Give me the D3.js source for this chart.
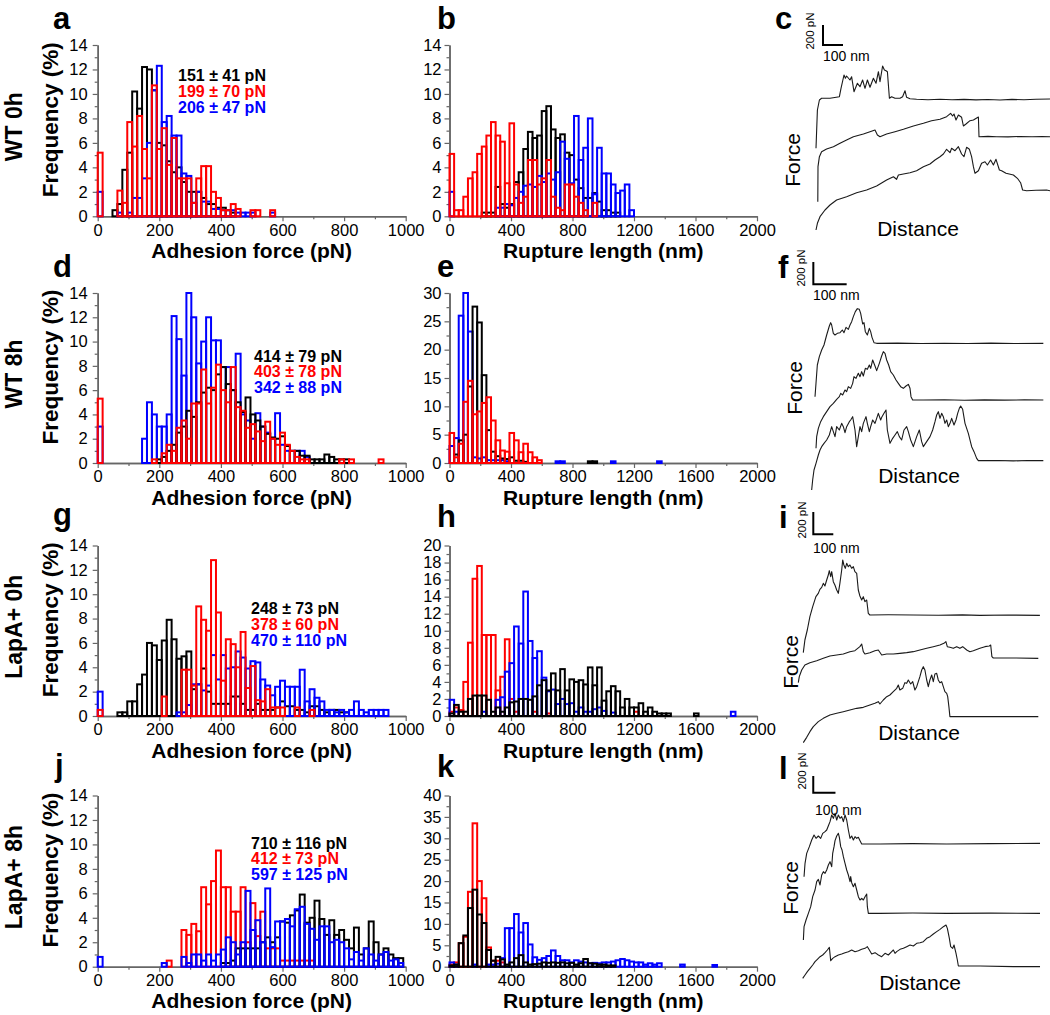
<!DOCTYPE html>
<html><head><meta charset="utf-8">
<script src="https://cdn.jsdelivr.net/npm/d3@7"></script>
<style>body{margin:0;background:#fff}svg{display:block}</style>
</head><body><svg id="chart" width="1050" height="1015"></svg>
<script>
// ---------------- DATA ----------------
const forceBinWidth = 16;   // pN
const lengthBinWidth = 30;  // nm
const forceTicks = [0, 200, 400, 600, 800, 1000];
const lengthTicks = [0, 400, 800, 1200, 1600, 2000];
const freqTicks14 = [0, 2, 4, 6, 8, 10, 12, 14];
const freqTicks20 = [0, 2, 4, 6, 8, 10, 12, 14, 16, 18, 20];
const freqTicks30 = [0, 5, 10, 15, 20, 25, 30];
const freqTicks40 = [0, 5, 10, 15, 20, 25, 30, 35, 40];
const rowLabels = ["WT 0h", "WT 8h", "LapA+ 0h", "LapA+ 8h"];
const panelLetters = ["a","b","c","d","e","f","g","h","i","j","k","l"];
const statsA = ["151 \u00b1 41 pN", "199 \u00b1 70 pN", "206 \u00b1 47 pN"];
const statsD = ["414 \u00b1 79 pN", "403 \u00b1 78 pN", "342 \u00b1 88 pN"];
const statsG = ["248 \u00b1 73 pN", "378 \u00b1 60 pN", "470 \u00b1 110 pN"];
const statsJ = ["710 \u00b1 116 pN", "412 \u00b1 73 pN", "597 \u00b1 125 pN"];

// adhesion force histograms (frequency %, bin i = [16i, 16i+16] pN)
const aBlack = [0,0,0,0.5,1,3.8,5.2,10.2,8.8,12.2,12,10.3,6,5.8,4.5,3.6,4,2.8,2,2,2,1.5,1,1,0.7,0.7,0.5,0.3];
const aRed = [5.2,0,0,0,2.1,1.1,7.7,5.7,8.2,5.5,3.1,10.7,5.5,7.2,4.2,6.4,3.1,3.1,3.1,1.1,3.1,4.1,4.1,2.0,1.5,0.5,0.5,1.0,0.6,0,0,0.5,0.5,0,0,0.5];
const aBlue = [2,0,0,0,0.3,0,0.3,1.5,1.5,3.1,6,10.3,12.3,7.7,8.2,6.6,6.6,3.5,3.3,1.1,2.0,1.2,1.2,0.6,0.6,0.5,0.5,0.5,0.3,0.3,0.3,0.3,0,0,0,0.3];

const dBlack = [0,0,0,0,0,0,0,0,0,0,0,0,0.3,0.5,1.0,1.5,2.5,3.0,4.3,3.8,5.0,5.8,6.2,6.0,7.3,7.9,6.5,6.0,5.0,4.2,5.4,4.0,3.5,3.0,2.4,2.1,2.0,2.2,1.4,1.0,1.0,0.6,0.6,0.3,0.3,0.3,0.7,0.5,0.3,0.3,0.3];
const dRed = [5.3,0,0,0,0,0,0,0,0,0,0,0.3,0,0.8,1.5,1.0,2.9,3.5,2.0,4.9,4.9,7.7,4.9,6.2,8.1,6.0,5.0,7.9,4.6,4.3,2.9,3.2,2.6,1.8,3.4,2.0,1.5,2.5,1.5,1.0,0.5,0.3,0.3,0,0,0,0,0,0,0.3,0,0.3,0,0,0,0,0,0.3];
const dBlue = [3.0,0,0,0,0,0,0,0,0,2.0,5.0,4.0,3.0,3.0,4.0,12.1,10.2,7.2,14.0,12.0,8.2,10.0,12.0,10.1,10.1,7.9,7.9,6.0,9.0,4.0,3.5,2.0,4.1,3.0,2.5,2.0,4.1,1.5,1.0,1.0,1.0,1.0,0.5];

const gBlack = [0,0,0,0,0.3,0.3,1.2,1.2,2.6,3.4,6.0,5.8,4.6,6.2,7.9,6.3,4.7,4.9,5.3,2.2,2.6,3.9,2.0,1.0,1.0,1.0,1.0,1.6,1.6,1.0,0.5,0.5,1.0,0.5,0.5,0.5,0.7,1.2,0.8,0.8,0.5,0.5,0.3,0.8,0.8,0.5,0.3,0.5,0.5,0.3,0.3];
const gRed = [0.5,0,0,0,0,0,0,0,0,0,0,0,0,1.6,0,0,0,3.8,3.8,2.5,9.0,7.9,7.0,12.8,8.5,2.9,6.3,5.9,4.0,6.9,2.3,4.1,1.3,1.2,2.2,0.7,0.7,0.7,0,0,0.7,0,0,0.5];
const gBlue = [2.0,0,0,0,0,0,0,0,0,0,0,0,0,0,0,0,0.3,0.3,0.9,2.6,2.6,2.1,2.5,5.0,3.0,5.0,3.9,4.0,5.3,4.8,3.9,4.5,4.4,3.0,2.5,1.7,2.4,2.9,2.4,2.4,2.4,3.8,1.2,2.2,1.5,1.2,0.5,0.5,0.3,0.5,0.3,0.5,1.2,0.5,0.3,0.5,0.5,0.5,0.5];

const jBlack = [0,0,0,0,0,0,0,0,0,0,0,0,0,0,0,0,0,0,0,0,0,0,0,0,0,0.3,0.3,0.5,1.5,1.5,1.5,1.5,1.5,2.0,2.4,2.0,2.4,3.7,3.6,4.2,4.6,5.9,3.6,4.0,5.4,3.9,2.6,3.8,2.6,3.0,2.2,1.5,3.2,1.0,1.5,3.7,2.0,1.0,1.5,1.0,0.7,0.7];
const jRed = [0,0,0,0,0,0,0,0,0,0,0,0,0,0,0.5,0,0,3.0,2.6,3.5,2.9,6.5,5.1,7.0,9.5,6.5,6.5,4.5,4.5,6.5,2.0,5.2,2.5,4.5,1.5,1.5,1.5,0.5,0.5,0.5,0.5,0.5,0.5,0.5];
const jBlue = [0.8,0,0,0,0,0,0,0,0,0,0,0,0,0.3,0,0,0,0.8,0.3,1.0,1.0,0.5,1.0,0.5,1.0,1.4,2.4,2.0,1.0,2.0,6.2,3.0,3.8,2.0,6.4,1.6,3.7,3.7,3.9,3.3,4.7,4.9,3.5,3.1,2.2,3.3,3.3,2.0,2.2,2.0,1.5,0.6,1.2,0.5,1.5,1.0,0.5,1.0,1.2,0.5,0.6,0.3];

// rupture length histograms (frequency %, bin j = [30j, 30j+30] nm)
const bBlack = [0,0,0,0,0,0,0,0.3,0.3,0.3,2.4,1.0,0.7,1.0,2.8,3.6,5.5,6.9,6.4,6.6,8.6,9.0,7.1,6.4,6.7,5.2,5.0,3.0,2.3,1.5,1.5,1.9,1.2,0.5,0.5,0.3,0.3];
const bRed = [5.1,0.5,0.5,1.6,3.1,3.6,5.1,5.7,6.6,7.7,6.6,6.1,2.7,7.6,2.6,1.1,1.6,4.6,4.6,2.6,3.1,4.6,1.6,0.7,0.5,2.6,2.6,1.6,1.1,0.5,0,1.1];
const bBlue = [2.0,0,0,0,0,0,0,0,0,0,0.7,0.7,1.0,0.9,1.5,2.0,2.5,2.6,2.4,3.3,2.8,3.5,3.0,3.6,6.1,4.7,2.7,8.2,4.6,5.6,8.0,1.8,5.6,3.5,3.5,2.6,1.9,2.1,2.6,0.5];

const eBlack = [0,1.5,4.0,5.0,13.5,27.6,24.8,15.5,5.8,2.0,1.2,0.8,0.7,1.0,0.4,0.4,0.2,0,0,0,0,0,0,0,0,0,0,0,0,0,0.3,0.3];
const eRed = [5.3,1.0,3.4,10.8,14.5,8.6,9.1,10.6,11.6,7.5,4.0,2.2,2.0,5.3,4.0,1.9,3.4,1.9,1.0,0.5];
const eBlue = [3.0,4.4,26,30,23.2,1.0,0.8,1.0,0.5,0.5,0.5,0.5,0.3,0,0,0,0,0,0,0,0,0,0,0.3,0.3,0,0,0,0,0,0,0,0,0,0,0.3,0,0,0,0,0,0,0,0,0,0.3];

const hBlack = [0.3,1.3,0.5,0.5,2.0,2.4,2.4,2.4,1.9,0.5,1.0,0.5,1.0,1.6,1.7,2.0,2.0,1.9,2.3,3.6,4.2,3.0,5.0,3.0,5.5,3.0,4.3,4.0,4.2,3.7,5.7,3.6,5.7,1.8,2.9,3.5,2.9,1.0,2.0,1.0,1.0,1.5,0.5,1.0,0.5,0.3,0.3,0.3,0,0,0,0,0,0.3];
const hRed = [0.5,1.0,0.7,4.0,8.6,16.1,17.6,9.5,9.5,9.5,3.0,4.6,9.0,2.0,0.5,0,0,0,0.5,0,0,0.3,0,0,0,0,0,0,0,0,0,0,0,0,0,0,0,0,0,0,0.5];
const hBlue = [1.9,0.5,0,0,0,0,0,0.5,0,0,1.9,2.2,5.2,6.2,10.5,8.5,14.6,8.8,6.8,7.6,4.5,2.9,3.1,1.4,2.0,1.4,1.5,0.5,1.0,0.5,0.5,0.8,1.0,0.6,0,0.4,0,0,0,0,0,0,0,0,0,0,0,0,0,0,0,0,0,0,0,0,0,0,0,0,0,0.5];

const kBlack = [0.3,0.5,5.5,7.3,13.7,18.0,12.2,10.2,3.9,1.4,2.3,1.7,0.5,1.0,2.0,2.7,1.0,0.5,0.6,0.7,1.0,0.9,1.0,0.9,1.0,0.8,0.9,0.5,0.8,1.8,0.8,0.7,0.5,0.5,0.3,0.3];
const kRed = [0.5,1.0,5.5,7.0,17.5,33.5,20.0,16.0,4.5,1.4,1.4,1.0];
const kBlue = [1.0,0.5,0,0,0,0.5,0,0,0.5,0.5,0.7,2.0,9.0,9.0,12.3,8.0,10.2,5.2,2.2,1.6,2.0,2.5,3.8,2.5,1.5,1.5,1.0,1.5,1.2,1.0,0.8,0.9,0.8,1.0,1.0,1.2,1.5,1.8,1.5,1.2,1.0,1.0,0.5,0.8,0.5,0.8,0,0,0,0,0.5,0,0,0,0,0,0,0.4];

// force–distance traces: [distance (nm), force (pN) incl. stacking offset]
const scaleBarForce = 200, scaleBarDistance = 100;
const traceC1 = [[0,917],[7,1300],[17,1400],[28,1417],[70,1417],[117,1433],[125,1517],[140,1650],[147,1617],[153,1640],[170,1600],[178,1633],[190,1483],[207,1567],[220,1533],[233,1600],[245,1517],[257,1600],[270,1527],[287,1617],[300,1567],[312,1683],[320,1583],[333,1740],[342,1700],[350,1693],[357,1683],[367,1417],[378,1433],[395,1417],[420,1417],[433,1433],[445,1493],[453,1427],[470,1413],[503,1407],[560,1403],[620,1408],[680,1402],[740,1406],[800,1401],[860,1405],[920,1400],[980,1406],[1040,1402],[1100,1407],[1170,1410]];
const traceC2 = [[9,383],[10,733],[17,833],[28,883],[53,910],[87,933],[120,967],[153,1000],[187,1033],[237,1060],[270,1083],[295,1100],[307,1050],[320,1033],[353,1060],[395,1083],[437,1107],[487,1140],[537,1167],[578,1193],[620,1207],[653,1233],[673,1267],[683,1240],[690,1260],[700,1200],[712,1250],[728,1227],[737,1140],[750,1160],[770,1193],[787,1200],[812,1230],[815,1033],[860,1036],[903,1033],[960,1031],[1020,1035],[1080,1032],[1130,1034],[1170,1033]];
const traceC3 = [[0,100],[7,167],[20,233],[45,300],[70,350],[103,400],[153,433],[203,473],[253,500],[303,540],[353,600],[387,633],[403,607],[412,650],[437,660],[470,673],[503,693],[537,733],[570,760],[595,800],[620,833],[637,860],[653,907],[670,873],[678,917],[695,893],[712,933],[728,860],[740,833],[753,927],[767,907],[778,833],[787,733],[795,667],[812,693],[828,767],[845,783],[857,750],[873,800],[887,750],[900,807],[917,700],[928,693],[950,667],[987,650],[1007,617],[1023,573],[1033,500],[1053,493],[1100,497],[1153,500],[1170,493]];

const traceF1 = [[12,840],[15,960],[19,1125],[25,1200],[32,1260],[39,1305],[47,1395],[55,1476],[59,1506],[62,1485],[67,1410],[72,1395],[79,1410],[87,1416],[94,1440],[99,1416],[105,1464],[112,1446],[117,1485],[122,1515],[127,1560],[133,1605],[139,1632],[145,1626],[149,1590],[155,1494],[159,1506],[163,1425],[169,1395],[175,1455],[179,1425],[183,1374],[189,1326],[197,1320],[260,1322],[330,1318],[400,1321],[470,1319],[540,1322],[610,1318],[697,1320]];
const traceF2 = [[15,375],[17,480],[22,555],[29,615],[37,660],[47,705],[57,750],[67,780],[77,816],[85,840],[89,870],[95,855],[102,900],[107,885],[112,930],[119,915],[125,960],[129,1020],[135,1005],[142,1050],[147,1020],[152,1065],[157,1026],[163,1095],[169,1086],[175,1125],[179,1095],[185,1170],[192,1116],[197,1074],[205,1140],[212,1206],[217,1245],[222,1230],[227,1170],[233,1125],[239,1065],[247,1035],[255,990],[262,960],[269,930],[277,915],[285,936],[292,951],[297,915],[300,840],[305,810],[337,810],[400,812],[460,808],[520,811],[580,809],[640,811],[697,810]];
const traceF3 = [[2,0],[5,90],[9,180],[15,240],[22,315],[27,360],[32,390],[39,420],[47,450],[55,495],[62,570],[67,525],[72,480],[77,570],[85,540],[92,600],[97,570],[102,516],[107,570],[115,615],[119,630],[125,660],[132,540],[137,390],[142,480],[147,570],[152,525],[157,600],[165,660],[169,600],[175,525],[179,570],[185,630],[192,600],[197,645],[202,690],[209,630],[213,660],[219,690],[225,720],[229,540],[237,420],[245,465],[252,495],[259,525],[265,480],[272,450],[279,540],[287,570],[292,525],[299,450],[307,390],[317,480],[325,540],[332,435],[337,390],[347,435],[357,480],[365,540],[372,615],[377,675],[382,705],[387,645],[392,690],[397,660],[402,600],[407,630],[412,570],[417,600],[422,645],[429,585],[435,630],[440,690],[445,735],[449,756],[455,726],[462,600],[472,510],[482,390],[489,345],[497,285],[502,264],[507,264],[560,266],[607,262],[650,265],[697,264]];

const traceI1 = [[25,831],[33,945],[45,1035],[58,1155],[72,1245],[88,1335],[100,1365],[108,1401],[117,1419],[125,1455],[133,1431],[142,1485],[150,1530],[155,1569],[162,1515],[167,1560],[175,1470],[183,1440],[192,1395],[200,1365],[208,1455],[217,1575],[222,1665],[228,1620],[235,1590],[242,1635],[250,1605],[258,1620],[267,1590],[275,1605],[283,1560],[292,1545],[300,1395],[308,1341],[317,1305],[325,1335],[333,1290],[342,1305],[350,1185],[358,1170],[450,1172],[575,1170],[700,1168],[820,1171],[908,1167],[1050,1170],[1208,1167]];
const traceI2 = [[0,561],[5,615],[17,675],[33,720],[58,741],[92,759],[125,780],[158,801],[192,810],[225,819],[258,840],[283,849],[308,885],[317,909],[325,840],[333,819],[358,831],[383,849],[400,855],[417,810],[442,819],[475,819],[508,825],[542,831],[575,840],[608,855],[642,870],[675,885],[708,900],[728,915],[738,930],[745,885],[758,879],[775,870],[792,885],[808,870],[822,885],[842,855],[858,840],[875,849],[908,870],[933,885],[955,891],[962,900],[968,795],[975,783],[1075,783],[1200,780]];
const traceI3 = [[25,21],[42,69],[58,120],[75,165],[100,210],[125,240],[158,270],[192,285],[225,300],[258,315],[292,330],[325,339],[358,360],[383,375],[400,390],[408,369],[425,405],[442,435],[458,450],[475,480],[492,510],[500,540],[508,495],[522,510],[533,561],[542,555],[550,585],[562,549],[572,570],[583,495],[592,525],[600,570],[608,615],[617,675],[625,705],[633,675],[642,585],[650,525],[658,585],[667,630],[675,570],[683,639],[692,645],[700,585],[708,561],[717,570],[725,525],[733,480],[742,465],[747,435],[753,345],[758,255],[908,255],[1075,255],[1200,255]];

const traceL1 = [[10.5,1240],[15,1400],[22.5,1520],[34.5,1600],[45,1680],[55.5,1740],[64.5,1700],[75,1728],[85.5,1700],[94.5,1760],[105,1780],[112.5,1800],[121.5,1860],[127.5,1900],[135,1980],[142.5,1940],[150,2000],[157.5,1920],[165,1980],[172.5,1940],[180,1960],[187.5,1900],[195,1980],[202.5,1920],[210,1800],[217.5,1700],[225,1728],[232.5,1680],[240,1720],[247.5,1700],[255,1712],[262.5,1672],[270,1632],[352.5,1632],[500,1636],[652.5,1632],[850,1636],[1072.5,1640]];
const traceL2 = [[7.5,480],[10.5,640],[19.5,720],[30,800],[40.5,880],[49.5,1000],[60,1080],[67.5,1180],[75,1208],[82.5,1140],[90,1260],[97.5,1300],[105,1280],[112.5,1320],[120,1380],[127.5,1420],[135,1360],[139.5,1520],[145.5,1600],[150,1672],[157.5,1728],[165,1760],[169.5,1712],[175.5,1600],[181.5,1560],[187.5,1480],[195,1400],[202.5,1320],[210,1260],[217.5,1180],[220.5,1240],[225,1168],[232.5,1120],[240,1160],[247.5,1080],[255,1000],[262.5,960],[270,980],[277.5,960],[285,1000],[292.5,1032],[295.5,880],[300,800],[352.5,800],[500,804],[652.5,800],[850,802],[1072.5,800]];
const traceL3 = [[4.5,20],[15,60],[25.5,100],[37.5,140],[49.5,180],[60,220],[70.5,248],[82.5,280],[94.5,300],[105,328],[115.5,360],[124.5,392],[130.5,232],[139.5,260],[150,280],[165,300],[180,312],[195,328],[210,340],[225,360],[240,340],[255,352],[270,368],[285,380],[295.5,400],[304.5,360],[315,312],[330,328],[345,300],[360,280],[375,320],[390,300],[405,340],[412.5,360],[420,320],[427.5,340],[442.5,368],[457.5,380],[472.5,400],[487.5,420],[502.5,408],[517.5,440],[532.5,448],[547.5,460],[562.5,500],[577.5,520],[592.5,552],[607.5,580],[622.5,608],[637.5,640],[649.5,660],[655.5,620],[664.5,500],[670.5,400],[679.5,380],[685.5,420],[694.5,320],[700.5,240],[705,168],[802.5,168],[952.5,160],[1072.5,160]];

// ---------------- DRAWING ----------------
const FONT = "'Liberation Sans', Arial, Helvetica, sans-serif";
const svg = d3.select("#chart").attr("font-family", FONT);
const colors = {black: "#000000", red: "#ff0000", blue: "#0000ff"};
const AXIS = "#666";

const rows = [
  {top: 45, bottom: 216.3, title: 41.5},
  {top: 293, bottom: 463, title: 42},
  {top: 545.5, bottom: 716, title: 41.5},
  {top: 795.5, bottom: 966.7, title: 41.5}
];
const xForce = d3.scaleLinear().domain([0, 1000]).range([97.7, 405.7]);
const xLength = d3.scaleLinear().domain([0, 2000]).range([449.5, 757]);

function styleAxis(sel) {
  sel.select(".domain").attr("stroke", AXIS).attr("stroke-width", 1.5);
  sel.selectAll(".tick line").attr("stroke", AXIS).attr("stroke-width", 1.2);
  sel.selectAll(".tick text").attr("fill", "#000").attr("font-size", "16.5px").attr("font-family", FONT);
}

function drawAxes(x, y, xMajor, xMinorStep, yMajor, yMinorStep, gap) {
  const g = svg.append("g");
  const xd = x.domain(), yd = y.domain();
  const xMinor = d3.range(xd[0], xd[1] + 1e-6, xMinorStep).filter(v => !xMajor.includes(v));
  const yMinor = d3.range(yd[0], yd[1] + 1e-6, yMinorStep).filter(v => !yMajor.includes(v));
  const b = y.range()[0], l = x.range()[0];
  g.append("g").attr("transform", `translate(0,${b})`)
    .call(d3.axisBottom(x).tickValues(xMinor).tickSize(3).tickFormat("").tickSizeOuter(0)).call(styleAxis);
  g.append("g").attr("transform", `translate(0,${b})`)
    .call(d3.axisBottom(x).tickValues(xMajor).tickSize(5).tickPadding(2.5).tickSizeOuter(0).tickFormat(d3.format("d"))).call(styleAxis);
  g.append("g").attr("transform", `translate(${l},0)`)
    .call(d3.axisLeft(y).tickValues(yMinor).tickSize(3).tickFormat("").tickSizeOuter(0)).call(styleAxis);
  g.append("g").attr("transform", `translate(${l},0)`)
    .call(d3.axisLeft(y).tickValues(yMajor).tickSize(5).tickPadding(gap).tickSizeOuter(0).tickFormat(d3.format("d"))).call(styleAxis);
}

function drawHist(x, y, values, binW, color) {
  const bins = values.map((v, i) => ({x0: i * binW, x1: (i + 1) * binW, v})).filter(d => d.v > 0);
  svg.append("g").selectAll("rect").data(bins).join("rect")
    .attr("x", d => x(d.x0)).attr("y", d => y(d.v))
    .attr("width", d => x(d.x1) - x(d.x0)).attr("height", d => y(0) - y(d.v))
    .attr("fill", "none").attr("stroke", color).attr("stroke-width", 2);
}

const histPanels = [
  {x: xForce, row: 0, ticks: freqTicks14, minor: 1, bin: forceBinWidth, s: {black: aBlack, red: aRed, blue: aBlue}, order: ["black", "blue", "red"]},
  {x: xLength, row: 0, ticks: freqTicks14, minor: 1, bin: lengthBinWidth, s: {black: bBlack, red: bRed, blue: bBlue}, order: ["black", "blue", "red"]},
  {x: xForce, row: 1, ticks: freqTicks14, minor: 1, bin: forceBinWidth, s: {black: dBlack, red: dRed, blue: dBlue}, order: ["blue", "black", "red"]},
  {x: xLength, row: 1, ticks: freqTicks30, minor: 2.5, bin: lengthBinWidth, s: {black: eBlack, red: eRed, blue: eBlue}, order: ["blue", "black", "red"]},
  {x: xForce, row: 2, ticks: freqTicks14, minor: 1, bin: forceBinWidth, s: {black: gBlack, red: gRed, blue: gBlue}, order: ["black", "blue", "red"]},
  {x: xLength, row: 2, ticks: freqTicks20, minor: 1, bin: lengthBinWidth, s: {black: hBlack, red: hRed, blue: hBlue}, order: ["red", "blue", "black"]},
  {x: xForce, row: 3, ticks: freqTicks14, minor: 1, bin: forceBinWidth, s: {black: jBlack, red: jRed, blue: jBlue}, order: ["red", "black", "blue"]},
  {x: xLength, row: 3, ticks: freqTicks40, minor: 2.5, bin: lengthBinWidth, s: {black: kBlack, red: kRed, blue: kBlue}, order: ["red", "blue", "black"]}
];

histPanels.forEach(p => {
  const r = rows[p.row];
  const yMax = p.ticks[p.ticks.length - 1];
  const y = d3.scaleLinear().domain([0, yMax]).range([r.bottom, r.top]);
  const isForce = p.x === xForce;
  drawAxes(p.x, y, isForce ? forceTicks : lengthTicks, isForce ? 100 : 200, p.ticks, p.minor, isForce ? 5 : 3);
  p.order.forEach(k => drawHist(p.x, y, p.s[k], p.bin, colors[k]));
  svg.append("text").attr("x", (p.x.range()[0] + p.x.range()[1]) / 2).attr("y", r.bottom + r.title)
    .attr("text-anchor", "middle").attr("font-weight", "bold").attr("font-size", "21px")
    .text(isForce ? "Adhesion force (pN)" : "Rupture length (nm)");
  if (isForce) {
    svg.append("text").attr("transform", `translate(58,${(r.top + r.bottom) / 2 - 11}) rotate(-90)`)
      .attr("text-anchor", "middle").attr("font-weight", "bold").attr("font-size", "22.5px").text("Frequency (%)");
    svg.append("text").attr("transform", `translate(22,${(r.top + r.bottom) / 2 - 4}) rotate(-90)`)
      .attr("text-anchor", "middle").attr("font-weight", "bold").attr("font-size", "23px").text(rowLabels[p.row]);
  }
});

// statistics text
const statsLayout = [
  {lines: statsA, x: 178, y: [81, 96.5, 112.5]},
  {lines: statsD, x: 254, y: [361.5, 377, 393]},
  {lines: statsG, x: 251, y: [614, 630, 646]},
  {lines: statsJ, x: 251, y: [848.5, 863.5, 879.5]}
];
const statColors = [colors.black, colors.red, colors.blue];
statsLayout.forEach(s => {
  s.lines.forEach((t, i) => {
    svg.append("text").attr("x", s.x).attr("y", s.y[i]).attr("fill", statColors[i])
      .attr("font-weight", "bold").attr("font-size", "16px").text(t);
  });
});

// panel letters
const letterPos = [[53,29],[437,29],[775,29],[53,277],[437,277],[778,278],[53,525],[437,527],[779,528],[55,776],[437,777],[779,779]];
panelLetters.forEach((L, i) => {
  svg.append("text").attr("x", letterPos[i][0]).attr("y", letterPos[i][1])
    .attr("font-weight", "bold").attr("font-size", "31px").text(L);
});

// force-distance trace panels
const tracePanels = [
  {x0: 816, kx: 0.2, yb: 240, ky: 0.1, traces: [traceC1, traceC2, traceC3], bar: [35, 1950],
   pnLabel: [814, 31], nmLabel: [823, 61], forceLabel: [800, 160], distLabel: [918, 236]},
  {x0: 811, kx: 1 / 3, yb: 490, ky: 1 / 9, traces: [traceF1, traceF2, traceF3], bar: [7, 1851],
   pnLabel: [805, 268], nmLabel: [813, 300], forceLabel: [802, 388], distLabel: [919, 483]},
  {x0: 798.3, kx: 0.2, yb: 745, ky: 1 / 9, traces: [traceI1, traceI2, traceI3], bar: [75, 1896],
   pnLabel: [806, 520], nmLabel: [813, 553], forceLabel: [798, 662], distLabel: [919, 740]},
  {x0: 801.7, kx: 0.2222, yb: 980, ky: 1 / 12, traces: [traceL1, traceL2, traceL3], bar: [52, 2248],
   pnLabel: [806, 771], nmLabel: [815, 815], forceLabel: [798, 888], distLabel: [920, 990]}
];

tracePanels.forEach(p => {
  const x = d3.scaleLinear().domain([0, 1000]).range([p.x0, p.x0 + 1000 * p.kx]);
  const y = d3.scaleLinear().domain([0, 1000]).range([p.yb, p.yb - 1000 * p.ky]);
  const line = d3.line().x(d => x(d[0])).y(d => y(d[1]));
  p.traces.forEach(t => {
    svg.append("path").attr("d", line(t)).attr("fill", "none").attr("stroke", "#1a1a1a")
      .attr("stroke-width", 1.1).attr("stroke-linejoin", "round");
  });
  const [bx, by] = p.bar;
  svg.append("path")
    .attr("d", `M${x(bx)},${y(by + scaleBarForce)}V${y(by)}H${x(bx + scaleBarDistance)}`)
    .attr("fill", "none").attr("stroke", "#000").attr("stroke-width", 2);
  svg.append("text").attr("transform", `translate(${p.pnLabel[0]},${p.pnLabel[1]}) rotate(-90)`)
    .attr("text-anchor", "middle").attr("font-size", "11.5px").text(scaleBarForce + " pN");
  svg.append("text").attr("x", p.nmLabel[0]).attr("y", p.nmLabel[1])
    .attr("font-size", "14px").text(scaleBarDistance + " nm");
  svg.append("text").attr("transform", `translate(${p.forceLabel[0]},${p.forceLabel[1]}) rotate(-90)`)
    .attr("text-anchor", "middle").attr("font-size", "21px").text("Force");
  svg.append("text").attr("x", p.distLabel[0]).attr("y", p.distLabel[1])
    .attr("text-anchor", "middle").attr("font-size", "21px").text("Distance");
});
</script>
</body></html>
